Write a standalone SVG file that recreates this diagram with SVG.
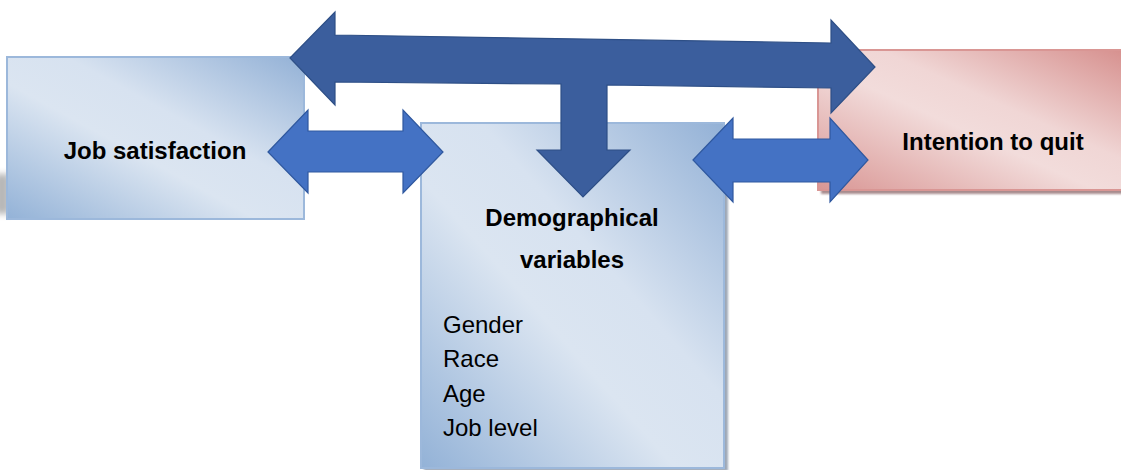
<svg xmlns="http://www.w3.org/2000/svg" width="1121" height="470" viewBox="0 0 1121 470">
  <defs>
    <linearGradient id="gradBlue" x1="0" y1="1" x2="1" y2="0">
      <stop offset="0" stop-color="#93B2D7"/>
      <stop offset="0.42" stop-color="#DBE5F1"/>
      <stop offset="0.6" stop-color="#D7E2F0"/>
      <stop offset="1" stop-color="#93B1D6"/>
    </linearGradient>
    <linearGradient id="gradRed" x1="0" y1="1" x2="1" y2="0">
      <stop offset="0" stop-color="#D99694"/>
      <stop offset="0.45" stop-color="#F2DCDB"/>
      <stop offset="0.6" stop-color="#F0D6D5"/>
      <stop offset="1" stop-color="#D68F8D"/>
    </linearGradient>
    <filter id="soft" x="-50%" y="-50%" width="200%" height="200%">
      <feGaussianBlur stdDeviation="1.2"/>
    </filter>
    <filter id="smear" x="-100%" y="-50%" width="300%" height="200%">
      <feGaussianBlur stdDeviation="3"/>
    </filter>
  </defs>
  <style>
    .boxBlue { fill: url(#gradBlue); stroke: #9CB8DB; stroke-width: 2; }
    .boxRed { fill: url(#gradRed); stroke: #D99694; stroke-width: 2; }
    .shadow { fill: #8E9AAA; opacity: 0.85; }
    .arrowDark { fill: #3B5E9D; stroke: #2E4F86; stroke-width: 1.2; stroke-linejoin: miter; }
    .arrowBright { fill: #4472C4; stroke: #2F589F; stroke-width: 1.2; stroke-linejoin: miter; }
    .title { font-family: "Liberation Sans", Arial, sans-serif; font-weight: bold; font-size: 24px; fill: #000; text-anchor: middle; }
    .item { font-family: "Liberation Sans", Arial, sans-serif; font-size: 24px; fill: #000; }
  </style>

  <!-- Job satisfaction -->
  <g id="node-job-satisfaction">
    <rect x="-6" y="174" width="16" height="40" fill="#9A9A9A" opacity="0.7" filter="url(#smear)"/>
    <rect class="boxBlue" x="7" y="57" width="297" height="162"/>
    <text class="title" x="155" y="159">Job satisfaction</text>
  </g>

  <!-- Demographical variables -->
  <g id="node-demographics">
    <rect class="shadow" x="424" y="126" width="304" height="345" filter="url(#soft)"/>
    <rect class="boxBlue" x="421" y="123" width="303" height="345"/>
    <text class="title" x="572" y="226">Demographical</text>
    <text class="title" x="572" y="268">variables</text>
    <text class="item" x="443" y="333">Gender</text>
    <text class="item" x="443" y="367">Race</text>
    <text class="item" x="443" y="402">Age</text>
    <text class="item" x="443" y="436">Job level</text>
  </g>

  <!-- Intention to quit -->
  <g id="node-intention">
    <rect fill="#A88C8E" x="821" y="54" width="310" height="140" filter="url(#soft)"/>
    <rect class="boxRed" x="818" y="50" width="310" height="140"/>
    <text class="title" x="993" y="150">Intention to quit</text>
  </g>

  <!-- Connectors -->
  <g id="connectors">
    <!-- T-shaped arrow: both ends plus the drop into the demographics box -->
    <polygon class="arrowDark" points="290,58 335,12 335,35 831,43 831,20 875,67 831,113 831,88 607,85 607,150 630,150 583,197 537,150 561,150 561,84 335,82 335,105"/>
    <!-- Job satisfaction <-> demographics -->
    <polygon class="arrowBright" points="268,152 308,110 308,131 403,131 403,110 443,152 403,193 403,172 308,172 308,193"/>
    <!-- demographics <-> intention to quit -->
    <polygon class="arrowBright" points="693,160 733,118 733,139 830,139 830,118 868,160 830,202 830,182 733,182 733,202"/>
  </g>
</svg>
